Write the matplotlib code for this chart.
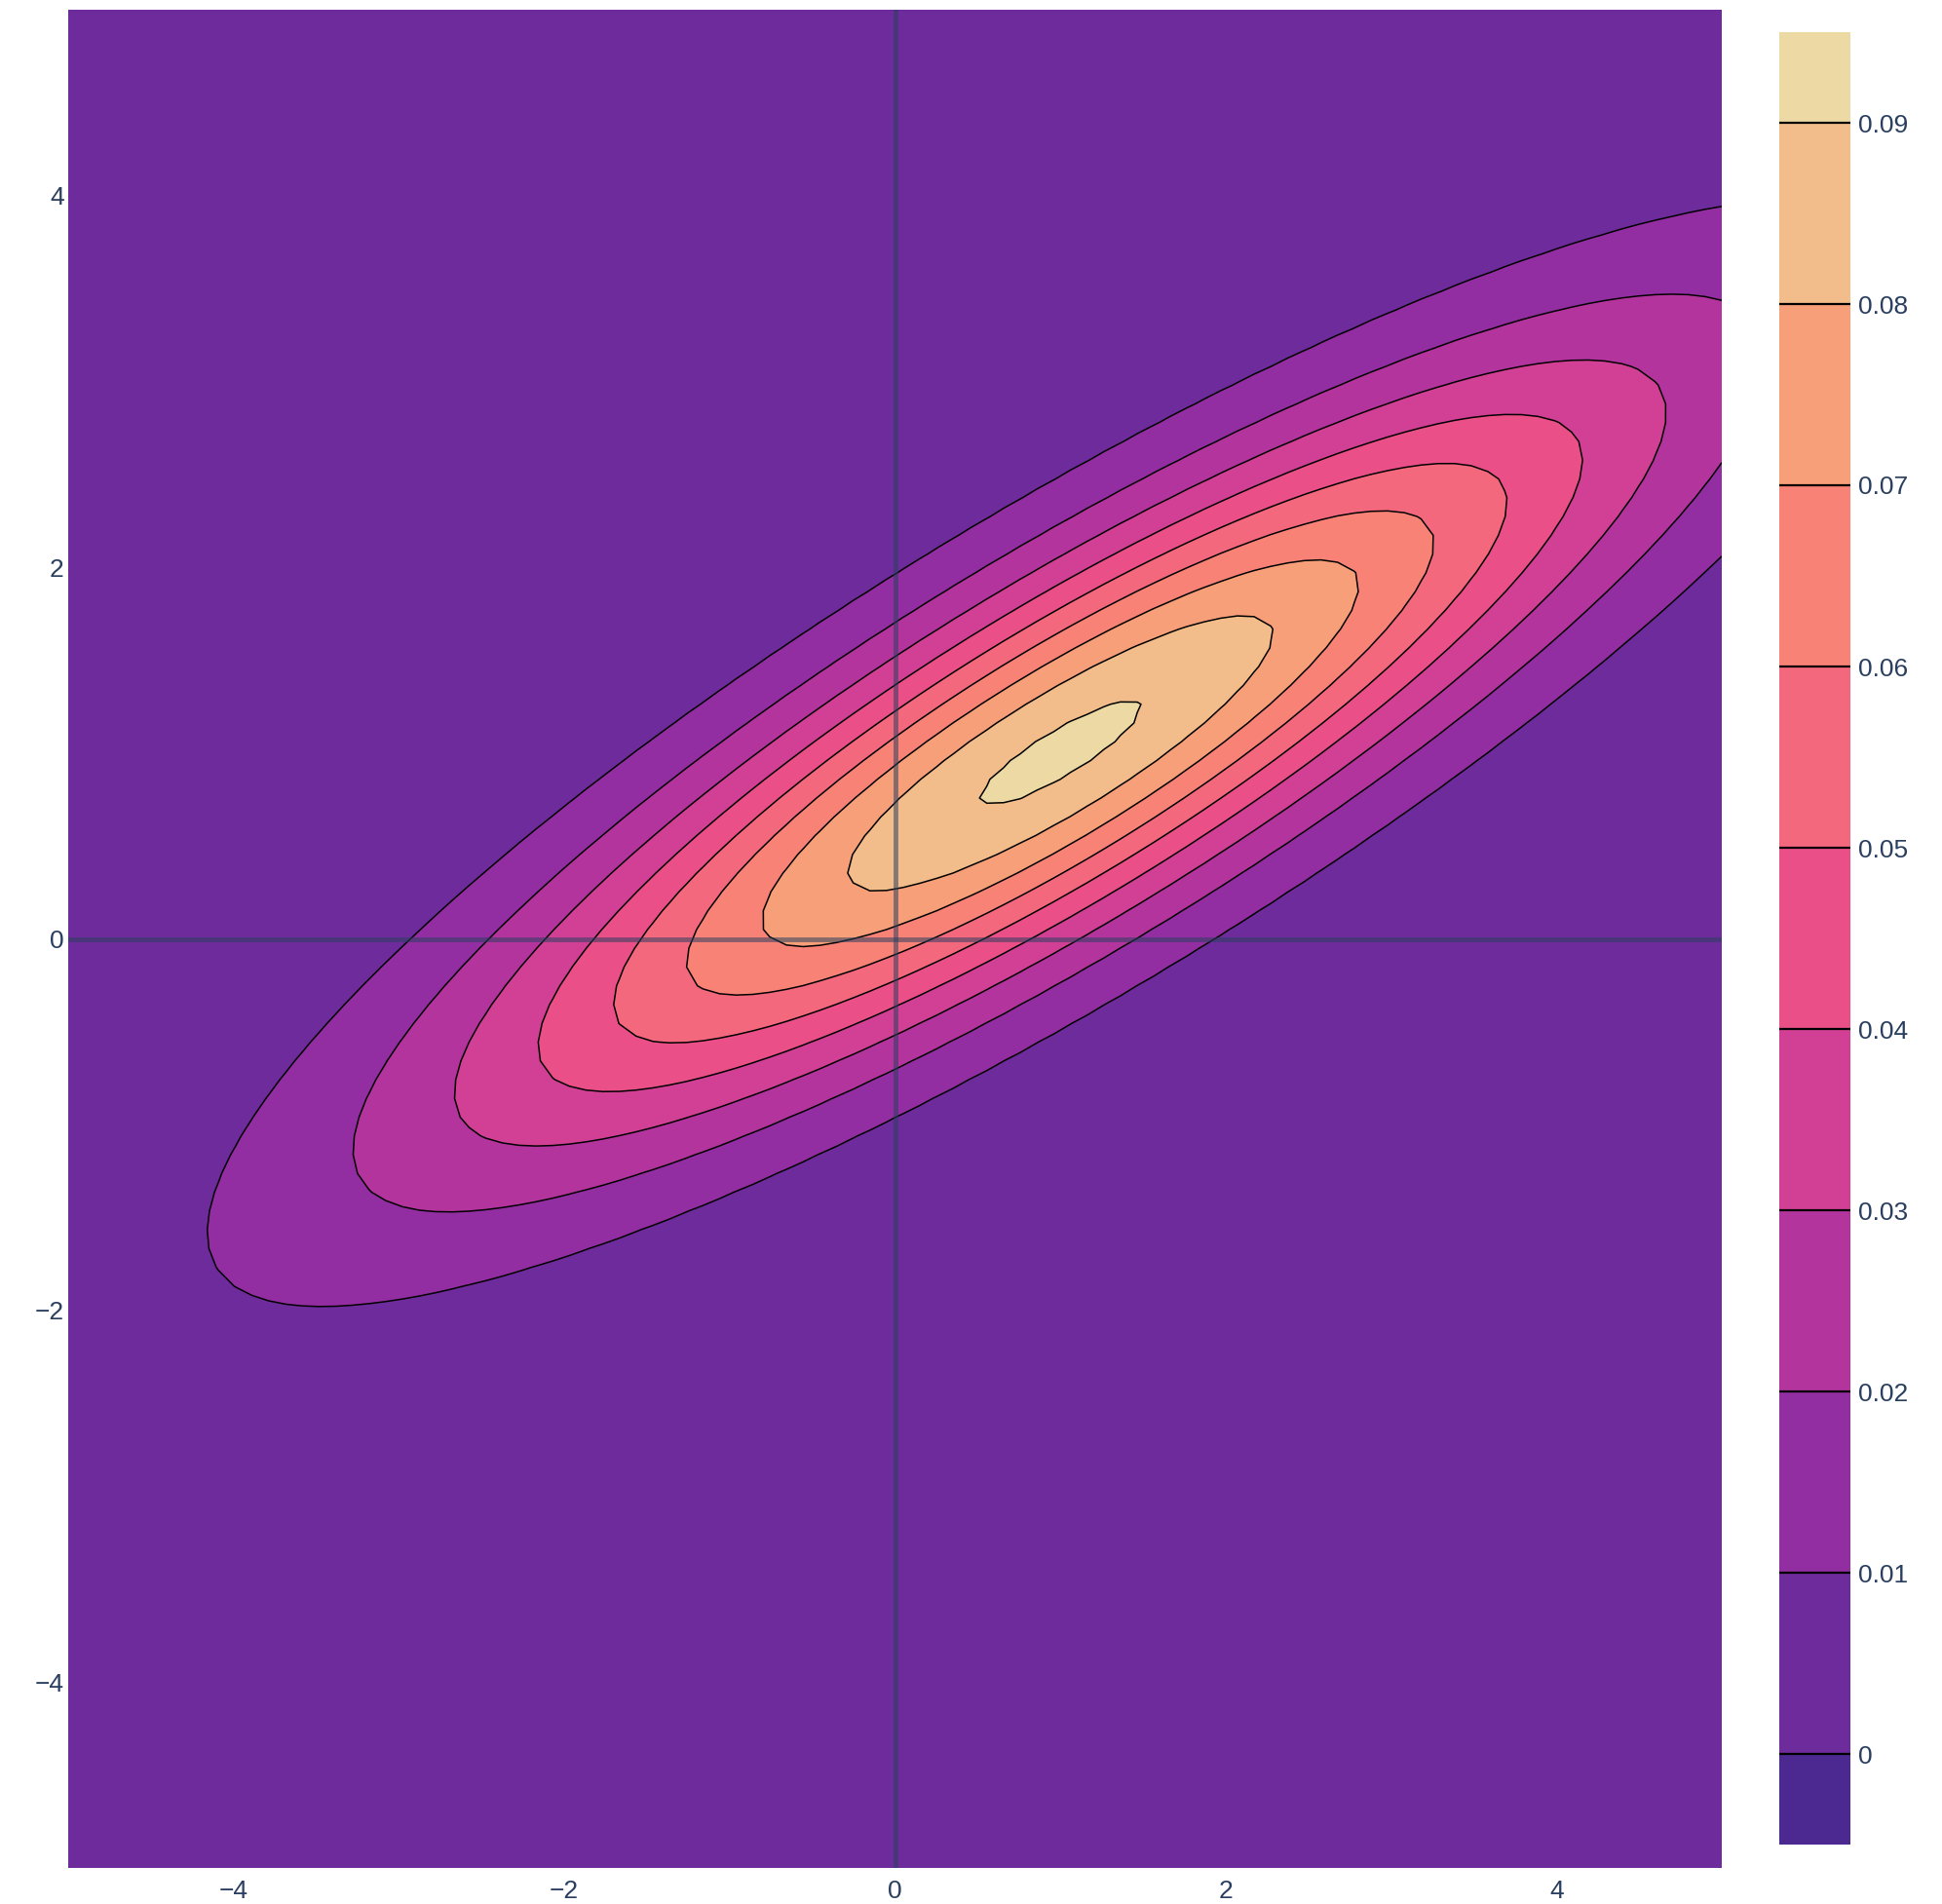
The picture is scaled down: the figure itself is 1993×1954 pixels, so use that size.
import numpy as np
import matplotlib
matplotlib.use("Agg")
import matplotlib.pyplot as plt
from matplotlib.colors import LinearSegmentedColormap, ListedColormap, BoundaryNorm

plt.rcParams['font.family'] = ['Liberation Sans', 'DejaVu Sans']

# bivariate normal
mean = [1.0, 1.0]
cov = [[6.0, 3.0],
       [3.0, 2.0]]
x_range = [-5, 5]
y_range = [-5, 5]
n_points = 100

levels = [0.00, 0.01, 0.02, 0.03, 0.04, 0.05, 0.06, 0.07, 0.08, 0.09]
tick_labels = ['0', '0.01', '0.02', '0.03', '0.04', '0.05', '0.06', '0.07', '0.08', '0.09']
axis_ticks = [-4, -2, 0, 2, 4]

# plotly "Agsunset"
agsunset = ['rgb(75, 41, 145)', 'rgb(135, 44, 162)', 'rgb(192, 54, 157)',
            'rgb(234, 79, 136)', 'rgb(250, 120, 118)', 'rgb(246, 169, 122)',
            'rgb(237, 217, 163)']

def rgb(s):
    return tuple(int(v) / 255 for v in s[4:-1].split(','))

scale = LinearSegmentedColormap.from_list('agsunset', [rgb(c) for c in agsunset])
n_bands = len(levels) + 1
band_colors = [scale(i / (n_bands - 1)) for i in range(n_bands)]
step = levels[1] - levels[0]
edges = [levels[0] - step / 2] + levels + [levels[-1] + step / 2]
cmap = ListedColormap(band_colors)
norm = BoundaryNorm(edges, cmap.N)

xs = np.linspace(x_range[0], x_range[1], n_points)
ys = np.linspace(y_range[0], y_range[1], n_points)
X, Y = np.meshgrid(xs, ys)
inv = np.linalg.inv(np.array(cov))
det = np.linalg.det(np.array(cov))
dx = X - mean[0]
dy = Y - mean[1]
q = inv[0, 0] * dx**2 + 2 * inv[0, 1] * dx * dy + inv[1, 1] * dy**2
Z = np.exp(-q / 2) / (2 * np.pi * np.sqrt(det))

W, H = 1993, 1954
fig = plt.figure(figsize=(W / 100, H / 100), dpi=100)
ax = fig.add_axes([70 / W, (H - 1917) / H, (1767 - 70) / W, (1917 - 10) / H])

ax.contourf(X, Y, Z, levels=edges, cmap=cmap, norm=norm)
ax.contour(X, Y, Z, levels=levels[1:], colors='black', linewidths=1.1)
ax.axhline(0, color='#2a3f5f', alpha=0.55, lw=3.5)
ax.axvline(0, color='#2a3f5f', alpha=0.55, lw=3.5)

ax.set_xlim(x_range)
ax.set_ylim(y_range)
ax.set_xticks(axis_ticks)
ax.set_yticks(axis_ticks)
ax.tick_params(axis='x', length=0, pad=9, labelsize=19, labelcolor='#2a3f5f')
ax.tick_params(axis='y', length=0, pad=3, labelsize=19, labelcolor='#2a3f5f')
for s in ax.spines.values():
    s.set_visible(False)

# colorbar
cax = fig.add_axes([1826 / W, (H - 1893) / H, (1899 - 1826) / W, (1893 - 33) / H])
cax.pcolormesh([0, 1], edges, np.array([[(edges[i] + edges[i + 1]) / 2] for i in range(n_bands)]),
               cmap=cmap, norm=norm)
for lv in levels:
    cax.axhline(lv, color='black', lw=1.6)
cax.set_xlim(0, 1)
cax.set_ylim(edges[0], edges[-1])
cax.set_xticks([])
cax.yaxis.tick_right()
cax.set_yticks(levels)
cax.set_yticklabels(tick_labels)
cax.tick_params(axis='y', length=0, pad=6, labelsize=19, labelcolor='#2a3f5f')
for s in cax.spines.values():
    s.set_visible(False)

fig.savefig('out.png', dpi=100)
